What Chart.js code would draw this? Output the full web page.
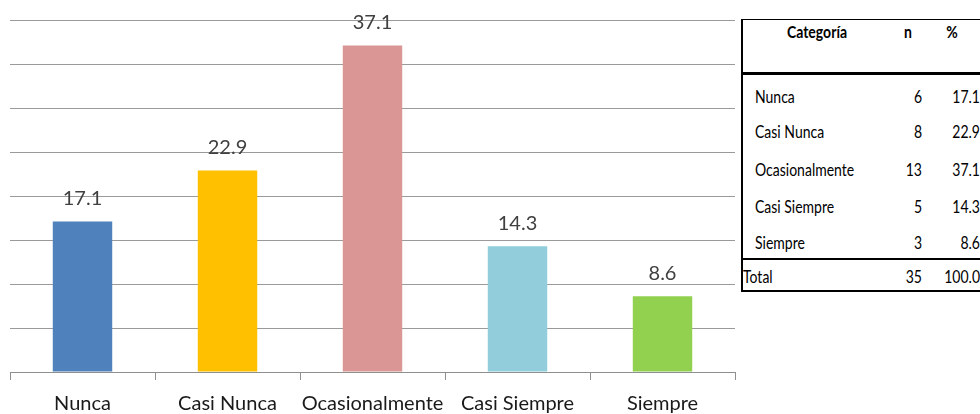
<!DOCTYPE html>
<html>
<head>
<meta charset="utf-8">
<script src="https://cdn.jsdelivr.net/npm/chart.js@4/dist/chart.umd.min.js"></script>
<style>
  html, body { margin: 0; padding: 0; background: #fff; overflow: hidden; width: 980px; height: 414px; }
  #wrap { position: absolute; left: 0; top: 0; width: 740px; height: 428px; }
  #tbl { position: absolute; left: 741px; top: 19px; width: 260px; height: 272px; font-family: Lato, "Open Sans", sans-serif; color: #000; }
  .ln { position: absolute; left: 0; width: 260px; background: #000; }
  .t { position: absolute; white-space: nowrap; font-size: 17.5px; line-height: 18px; transform: scaleX(0.8); }
  .l { transform-origin: left center; }
  .r { transform-origin: right center; text-align: right; }
  .c { transform-origin: center center; text-align: center; }
</style>
</head>
<body>
<div id="wrap"><canvas id="c"></canvas></div>
<div id="tbl"></div>
<script>
const categories = ["Nunca", "Casi Nunca", "Ocasionalmente", "Casi Siempre", "Siempre"];
const percentValues = [17.1, 22.9, 37.1, 14.3, 8.6];
const countValues = [6, 8, 13, 5, 3];
const totalCount = 35;
const totalPercent = 100.0;
const tableHeaders = ["Categoría", "n", "%"];
const barColors = ["#4F81BD", "#FFC000", "#D99694", "#92CDDC", "#92D050"];

const valueLabels = {
  id: 'valueLabels',
  afterDatasetsDraw(chart) {
    const ctx = chart.ctx;
    const meta = chart.getDatasetMeta(0);
    ctx.save();
    ctx.font = '20px Lato, "Open Sans", sans-serif';
    ctx.fillStyle = '#404040';
    ctx.textAlign = 'center';
    ctx.textBaseline = 'middle';
    meta.data.forEach((bar, i) => {
      ctx.fillText(percentValues[i].toFixed(1), bar.x, bar.y - 23);
    });
    ctx.restore();
  }
};

new Chart(document.getElementById('c'), {
  type: 'bar',
  data: {
    labels: categories,
    datasets: [{
      data: percentValues,
      backgroundColor: barColors,
      borderWidth: 0,
      categoryPercentage: 1.0,
      barPercentage: 0.41
    }]
  },
  options: {
    responsive: true,
    maintainAspectRatio: false,
    animation: false,
    events: [],
    layout: { padding: { left: 10, right: 5, top: 20, bottom: 0 } },
    plugins: { legend: { display: false }, tooltip: { enabled: false } },
    scales: {
      x: {
        offset: true,
        grid: { offset: true, drawOnChartArea: false, drawTicks: true, tickLength: 8, color: '#8f8f8f', lineWidth: 1 },
        border: { display: true, color: '#8f8f8f', width: 1 },
        ticks: { color: '#1a1a1a', padding: 12, font: { family: 'Lato, "Open Sans", sans-serif', size: 20, lineHeight: 1.2 }, maxRotation: 0, autoSkip: false }
      },
      y: {
        min: 0, max: 40,
        ticks: { display: false, stepSize: 5 },
        grid: { color: '#9a9a9a', lineWidth: 1, drawTicks: false, tickLength: 0 },
        border: { display: false }
      }
    }
  },
  plugins: [valueLabels]
});

// Table
const tbl = document.getElementById('tbl');
function addLine(top, h) {
  const d = document.createElement('div');
  d.className = 'ln';
  d.style.top = top + 'px';
  d.style.height = h + 'px';
  tbl.appendChild(d);
}
function addText(txt, cls, x, yc, bold, width) {
  const d = document.createElement('div');
  d.className = 't ' + cls;
  d.textContent = txt;
  d.style.top = (yc - 9) + 'px';
  if (cls.includes('r')) { d.style.left = (x - width) + 'px'; d.style.width = width + 'px'; }
  else if (cls.includes('c')) { d.style.left = (x - width / 2) + 'px'; d.style.width = width + 'px'; }
  else { d.style.left = x + 'px'; }
  if (bold) d.style.fontWeight = 'bold';
  tbl.appendChild(d);
}
addLine(0, 1);
addLine(53, 2.5);
addLine(239, 2);
addLine(271, 1.5);
const lb = document.createElement('div');
lb.style.cssText = 'position:absolute;left:0;top:0;width:1.5px;height:272px;background:#000;';
tbl.appendChild(lb);

addText(tableHeaders[0], 'c', 76, 13, true, 100);
addText(tableHeaders[1], 'c', 167, 13, true, 30);
addText(tableHeaders[2], 'c', 211, 13, true, 30);
const rowY = [78, 113, 151, 188, 224];
categories.forEach((cat, i) => {
  addText(cat, 'l', 14, rowY[i], false);
  addText(String(countValues[i]), 'r', 181, rowY[i], false, 40);
  addText(percentValues[i].toFixed(1), 'r', 239, rowY[i], false, 50);
});
addText('Total', 'l', 2, 258, false);
addText(String(totalCount), 'r', 181, 258, false, 40);
addText(totalPercent.toFixed(1), 'r', 239, 258, false, 50);
</script>
</body>
</html>
